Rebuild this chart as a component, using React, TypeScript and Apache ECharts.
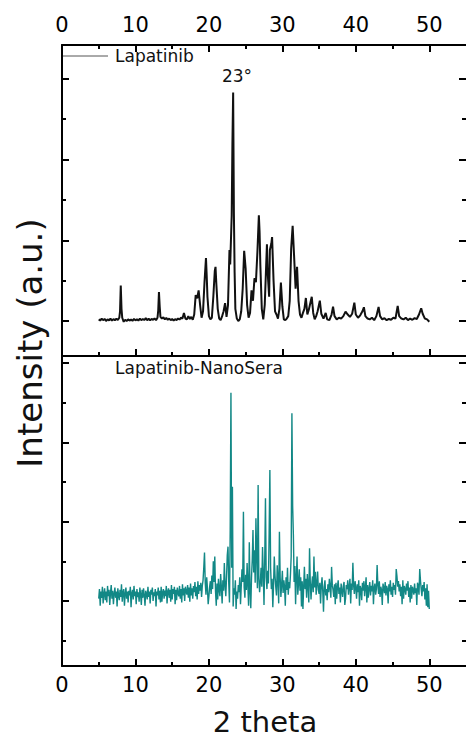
import { useEffect, useRef } from "react";
import * as echarts from "echarts";

// ---- data ----
// Lapatinib: [2theta, intensity]
const lapatinib: [number, number][] = [
  [5.0, 20], [5.2, 5], [5.4, 30], [5.6, 10], [5.8, 25], [6.0, 0], [6.2, 20], [6.4, 8], [6.6, 30], [6.8, 5],
  [7.0, 22], [7.2, 10], [7.4, 28], [7.6, 12], [7.8, 40], [7.9, 120], [8.0, 440], [8.1, 150], [8.2, 40], [8.4, -10],
  [8.6, 15], [8.8, 0], [9.0, 20], [9.2, 5], [9.4, 18], [9.6, 2], [9.8, 25], [10.0, 8], [10.2, 20], [10.4, 5],
  [10.6, 30], [10.8, 10], [11.0, 25], [11.2, 12], [11.4, 35], [11.6, 10], [11.8, 28], [12.0, 8], [12.2, 25], [12.4, 15],
  [12.6, 32], [12.8, 10], [13.0, 40], [13.1, 130], [13.2, 360], [13.3, 180], [13.4, 50], [13.6, 30], [13.8, 45], [14.0, 20],
  [14.2, 38], [14.4, 15], [14.6, 30], [14.8, 10], [15.0, 25], [15.2, 5], [15.4, 22], [15.6, 12], [15.8, 30], [16.0, 18],
  [16.2, 40], [16.4, 30], [16.6, 100], [16.8, 30], [17.0, 20], [17.2, 60], [17.4, 25], [17.6, 50], [17.8, 15], [18.0, 80],
  [18.2, 320], [18.4, 280], [18.6, 380], [18.8, 200], [19.0, 40], [19.2, 120], [19.4, 480], [19.6, 780], [19.7, 560], [19.8, 300],
  [20.0, 60], [20.2, 20], [20.4, 40], [20.6, 300], [20.8, 620], [20.9, 670], [21.0, 480], [21.2, 150], [21.4, 30], [21.6, 10],
  [21.8, 60], [22.0, 120], [22.2, 220], [22.4, 50], [22.6, 200], [22.8, 880], [22.9, 700], [23.1, 1300], [23.2, 2200], [23.3, 2830],
  [23.4, 1340], [23.5, 600], [23.6, 150], [23.8, 30], [24.0, 0], [24.2, 20], [24.4, 120], [24.6, 400], [24.8, 870], [25.0, 650],
  [25.2, 200], [25.4, 40], [25.6, 100], [25.8, 380], [26.0, 250], [26.2, 530], [26.4, 480], [26.6, 850], [26.8, 1310], [26.9, 1100],
  [27.0, 700], [27.2, 150], [27.4, 20], [27.6, 200], [27.8, 700], [27.9, 950], [28.0, 600], [28.2, 300], [28.3, 880], [28.5, 960],
  [28.6, 1040], [28.8, 500], [29.0, 120], [29.2, 80], [29.4, 30], [29.6, 150], [29.8, 475], [30.0, 180], [30.2, 20], [30.4, 10],
  [30.6, 30], [30.8, 60], [31.0, 250], [31.2, 900], [31.4, 1180], [31.6, 800], [31.8, 400], [32.0, 670], [32.2, 250], [32.4, 80],
  [32.6, 40], [32.8, 100], [33.0, 150], [33.2, 285], [33.4, 80], [33.6, 140], [34.0, 300], [34.2, 100], [34.4, 20], [34.6, 60],
  [34.8, 120], [35.1, 252], [35.3, 90], [35.6, 30], [35.9, 100], [36.1, 20], [36.4, 10], [36.7, 80], [36.9, 178], [37.1, 60],
  [37.4, 20], [37.7, 40], [38.0, 30], [38.3, 60], [38.6, 116], [38.9, 80], [39.2, 50], [39.5, 90], [39.8, 227], [40.0, 80],
  [40.3, 40], [40.6, 70], [40.9, 120], [41.1, 170], [41.3, 60], [41.6, 30], [41.9, 20], [42.2, 40], [42.5, 10], [42.8, 60],
  [43.1, 173], [43.3, 60], [43.6, 20], [43.9, 35], [44.2, 10], [44.5, 25], [44.8, 15], [45.1, 40], [45.4, 30], [45.7, 186],
  [45.9, 60], [46.2, 30], [46.5, 20], [46.8, 40], [47.1, 10], [47.4, 30], [47.7, 15], [48.0, 35], [48.3, 25], [48.6, 80],
  [48.9, 157], [49.1, 90], [49.4, 30], [49.7, 20], [50.0, -10],
];

// Lapatinib-NanoSera: one value every 0.1 deg from 5.0 to 50.0
const nanoStart = 5;
const nanoStep = 0.1;
const nanoSera: number[] = [
  30, 150, -60, 120, 40, 180, -30, 90, 160, 10,
  120, -20, 190, 60, 140, -50, 100, 200, 30, 130,
  -40, 90, 170, 40, 120, -70, 160, 70, 10, 140,
  50, 210, -10, 110, 150, -60, 90, 170, 30, 120,
  -20, 130, 70, 180, -80, 100, 140, 20, 190, 60,
  120, -40, 150, 50, 110, -10, 170, 80, -50, 140,
  40, 160, 70, -60, 130, 90, 20, 180, 50, 120,
  -30, 140, 80, 170, 0, 110, 60, 150, -70, 120,
  70, 170, 20, 130, -20, 180, -10, 110, 150, 30,
  130, 60, 190, -30, 120, 160, 40, 140, -10, 200,
  20, 150, 90, 180, -40, 140, 10, 170, 100, 60,
  190, 30, 150, -20, 210, 70, 160, 0, 180, 120,
  80, 200, 40, 170, -10, 220, 70, 160, 30, 190,
  110, 240, 60, 180, 20, 250, 90, 200, 130, 230,
  50, 190, 260, 420, 610, 230, 80, 300, 160, -40,
  60, 180, 250, 90, 320, 150, 500, 240, 560, 120,
  -60, 220, 20, 280, 140, 60, 340, 170, -30, 260,
  130, 480, 200, 60, 300, 580, 685, 230, -20, 900,
  2627, 420, 1441, -70, 160, 80, 260, -100, 120, 30,
  200, 110, 300, -40, 180, 400, 240, 1126, 170, 40,
  330, 140, 480, 210, -60, 740, 120, -90, 300, 520,
  895, 360, 640, 230, 1043, 580, 160, 1463, 280, 110,
  240, 420, 180, 680, 350, -50, 520, 1295, 300, 150,
  380, 220, 860, 1652, 420, 150, 280, -80, 200, 560,
  320, 180, 70, 450, 260, -30, 874, 300, 50, 210,
  380, 100, 260, 180, -60, 300, 140, 420, 80, 240,
  160, 330, 560, 2367, 1200, 832, 240, 440, -40, 300,
  560, 80, 220, 400, 130, 300, -70, 250, -100, 180,
  430, 150, 280, 40, 340, 190, -20, 665, 240, 20,
  200, 310, 110, 560, 170, 370, 80, 220, 370, 140,
  90, 230, -30, 190, 300, 120, -135, 180, 260, 70,
  150, 10, 210, 110, 280, 170, 40, 430, 200, 140,
  50, 210, -40, 230, 30, 180, 260, 90, 170, -20,
  220, 130, 50, 190, 240, -50, 30, 200, 150, 260,
  80, 180, 280, -30, 220, 140, 483, 200, 90, 250,
  170, 30, 210, 110, 260, -60, 190, 150, 10, 230,
  130, 250, 60, 180, 300, -20, 200, 40, 160, 240,
  70, 190, 120, 260, -40, 170, 220, 80, 150, 454,
  200, 90, 250, 50, 180, 140, -50, 220, 170, 100,
  240, 70, 190, 150, -30, 210, 120, 260, 80, 180,
  50, 230, 140, 200, 80, 403, 310, 180, 250, 120,
  210, 60, 180, -40, 260, 30, 190, 150, 80, 220,
  130, 250, 50, 170, -20, 200, 30, 180, 140, 80,
  220, 100, 160, -50, 230, 180, 80, 403, 260, 150,
  60, 200, 120, 240, 20, 160, -60, 210, -80, 130,
  -100,
];

const xMajorTicks = [0, 10, 20, 30, 40, 50];
const xMinorTicks = [5, 15, 25, 35, 45];
const yMajorTicks = [0, 1000, 2000, 3000];
const yMinorUpper = [500, 1500, 2500];
const yMinorLower = [-500, 500, 1500, 2500];
const xRange = [0, 55];
const yRangeUpper = [-434, 3420];
const yRangeLower = [-820, 3090];

const FONT = "DejaVu Sans";
const BLACK = "#000";

function xAx(gridIndex: number, position: string, ticks: number[], len: number, line: boolean, extra: any = {}) {
  return {
    type: "value",
    gridIndex,
    position,
    min: xRange[0],
    max: xRange[1],
    axisLine: { show: line, onZero: false, lineStyle: { color: BLACK, width: 2 } },
    axisTick: {
      show: ticks.length > 0,
      inside: true,
      length: len,
      customValues: ticks,
      lineStyle: { color: BLACK, width: 2 },
    },
    axisLabel: { show: false },
    splitLine: { show: false },
    ...extra,
  };
}

function yAx(gridIndex: number, position: string, range: number[], ticks: number[], len: number, line: boolean) {
  return {
    type: "value",
    gridIndex,
    position,
    min: range[0],
    max: range[1],
    axisLine: { show: line, onZero: false, lineStyle: { color: BLACK, width: 2 } },
    axisTick: {
      show: true,
      inside: true,
      length: len,
      customValues: ticks,
      lineStyle: { color: BLACK, width: 2 },
    },
    axisLabel: { show: false },
    splitLine: { show: false },
  };
}

const labelStyle = (margin: number) => ({
  show: true,
  customValues: xMajorTicks,
  margin,
  fontSize: 21,
  fontFamily: FONT,
  color: BLACK,
});

export default function App() {
  const ref = useRef<HTMLDivElement>(null);
  useEffect(() => {
    if (!ref.current) return;
    const chart = echarts.init(ref.current, null, { renderer: "svg" });
    const nanoData = nanoSera.map((v, i) => [+(nanoStart + i * nanoStep).toFixed(1), v]);
    const option: any = {
      animation: false,
      backgroundColor: "#fff",
      grid: [
        { left: 62, top: 45, width: 407, height: 311 },
        { left: 62, top: 356, width: 407, height: 310 },
      ],
      xAxis: [
        xAx(0, "bottom", xMajorTicks, 7, true),
        xAx(0, "bottom", xMinorTicks, 4, false),
        xAx(0, "top", xMajorTicks, 7, true, { axisLabel: labelStyle(10) }),
        xAx(0, "top", xMinorTicks, 4, false),
        xAx(1, "bottom", xMajorTicks, 7, true, { axisLabel: labelStyle(8) }),
        xAx(1, "bottom", xMinorTicks, 4, false),
        xAx(1, "top", [], 0, true),
      ],
      yAxis: [
        yAx(0, "left", yRangeUpper, yMajorTicks, 7, true),
        yAx(0, "left", yRangeUpper, yMinorUpper, 4, false),
        yAx(0, "right", yRangeUpper, yMajorTicks, 7, false),
        yAx(0, "right", yRangeUpper, yMinorUpper, 4, false),
        yAx(1, "left", yRangeLower, yMajorTicks, 7, true),
        yAx(1, "left", yRangeLower, yMinorLower, 4, false),
        yAx(1, "right", yRangeLower, yMajorTicks, 7, false),
        yAx(1, "right", yRangeLower, yMinorLower, 4, false),
      ],
      series: [
        {
          name: "Lapatinib",
          type: "line",
          xAxisIndex: 0,
          yAxisIndex: 0,
          data: lapatinib,
          showSymbol: false,
          symbol: "none",
          lineStyle: { color: "#111", width: 2 },
        },
        {
          name: "Lapatinib-NanoSera",
          type: "line",
          xAxisIndex: 4,
          yAxisIndex: 4,
          data: nanoData,
          showSymbol: false,
          symbol: "none",
          lineStyle: { color: "#128886", width: 1.4 },
        },
      ],
      graphic: [
        { type: "line", shape: { x1: 63, y1: 56, x2: 108, y2: 56 }, style: { stroke: "#555", lineWidth: 1 } },
        { type: "text", x: 115, y: 56, style: { text: "Lapatinib", fontSize: 17, fontFamily: FONT, fill: "#111", align: "left", verticalAlign: "middle" } },
        { type: "text", x: 237, y: 76, style: { text: "23°", fontSize: 17, fontFamily: FONT, fill: "#111", align: "center", verticalAlign: "middle" } },
        { type: "text", x: 115, y: 368, style: { text: "Lapatinib-NanoSera", fontSize: 17, fontFamily: FONT, fill: "#111", align: "left", verticalAlign: "middle" } },
        { type: "text", x: 265, y: 722, style: { text: "2 theta", fontSize: 29, fontFamily: FONT, fill: "#111", align: "center", verticalAlign: "middle" } },
        { type: "text", x: 30, y: 343, rotation: Math.PI / 2, style: { text: "Intensity (a.u.)", fontSize: 34, fontFamily: FONT, fill: "#111", align: "center", verticalAlign: "middle" } },
      ],
    };
    chart.setOption(option);
    return () => chart.dispose();
  }, []);
  return <div ref={ref} style={{ position: "fixed", left: 0, top: 0, width: 466, height: 744 }} />;
}
